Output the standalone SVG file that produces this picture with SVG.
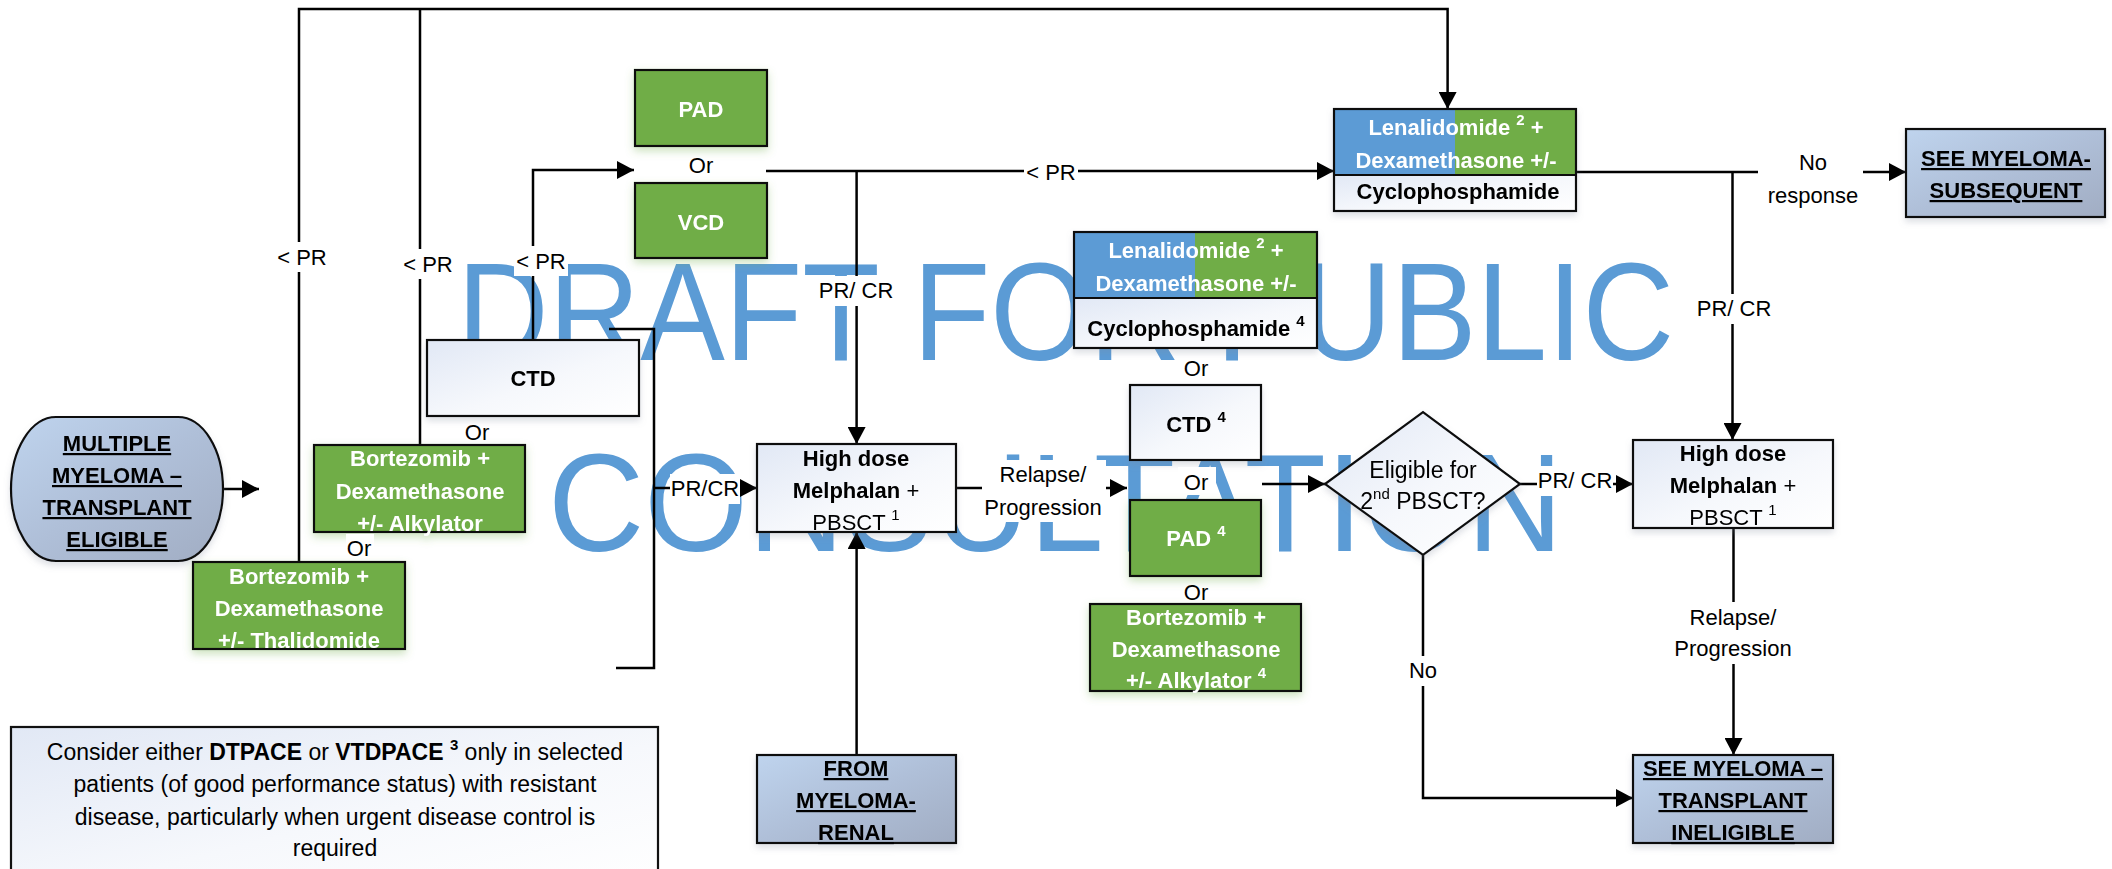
<svg xmlns="http://www.w3.org/2000/svg" width="2112" height="869" viewBox="0 0 2112 869">
<style>
text{font-family:"Liberation Sans",Arial,sans-serif;text-anchor:middle;font-size:22px;fill:#000}
.b{font-weight:bold}
.w{fill:#fff}
.u{text-decoration:underline}
.lab{font-size:22px}
.dia{font-size:23px}
.note{font-size:23px}
.wm{font-size:140px;fill:#5B9BD5;text-anchor:start}
.ln{fill:none;stroke:#000;stroke-width:2.5}
.arr{marker-end:url(#ah)}
.bg{fill:#fff}
.box{stroke:#111;stroke-width:2.2}
.green{fill:#70AD47}
.blue{fill:#5B9BD5}
.light{fill:url(#gLight)}
.term{fill:url(#gTerm)}
</style>
<defs>
<marker id="ah" markerUnits="userSpaceOnUse" markerWidth="18" markerHeight="18" refX="17" refY="9" orient="auto">
<path d="M0,0 L17,9 L0,18 Z" fill="#000"/>
</marker>
<linearGradient id="gLight" x1="0" y1="0" x2="1" y2="1">
<stop offset="0" stop-color="#E1E8F5"/>
<stop offset="0.55" stop-color="#F6F8FC"/>
<stop offset="1" stop-color="#FFFFFF"/>
</linearGradient>
<linearGradient id="gTerm" x1="0" y1="0" x2="1" y2="1">
<stop offset="0" stop-color="#BFD4EE"/>
<stop offset="0.5" stop-color="#AFBFD8"/>
<stop offset="1" stop-color="#A1ADC3"/>
</linearGradient>
<filter id="sh" x="-10%" y="-10%" width="120%" height="130%">
<feDropShadow dx="0" dy="4" stdDeviation="3" flood-color="#7a8599" flood-opacity="0.25"/>
</filter>
<filter id="shg" x="-10%" y="-10%" width="120%" height="130%">
<feDropShadow dx="0" dy="4" stdDeviation="4" flood-color="#70AD47" flood-opacity="0.35"/>
</filter>
</defs>

<g id="watermark">
<text class="wm" x="457" y="360" textLength="1217" lengthAdjust="spacingAndGlyphs">DRAFT FOR PUBLIC</text>
<text class="wm" x="548" y="551" textLength="1015" lengthAdjust="spacingAndGlyphs">CONSULTATION</text>
</g>

<g id="connectors">
<path class="ln arr" d="M299,562 V9 H1447.6 V109"/>
<path class="ln" d="M420,445 V9"/>
<path class="ln arr" d="M533,340 V170 H634"/>
<path class="ln arr" d="M766,171 H1334"/>
<path class="ln arr" d="M856.6,171 V444"/>
<path class="ln" d="M609,329 H654 V668 H616"/>
<path class="ln arr" d="M654,488 H757"/>
<path class="ln arr" d="M223,489 H259"/>
<path class="ln arr" d="M956,488 H1127"/>
<path class="ln arr" d="M1262,484 H1325"/>
<path class="ln arr" d="M1520,484 H1633"/>
<path class="ln arr" d="M1423,555 V798 H1633"/>
<path class="ln arr" d="M1733.5,528 V755"/>
<path class="ln arr" d="M1576,172 H1906"/>
<path class="ln arr" d="M1732.5,172 V440"/>
<path class="ln arr" d="M856.6,755 V532"/>

<rect class="bg" x="276" y="242" width="54" height="30"/>
<text class="lab" x="302" y="265">&lt; PR</text>
<rect class="bg" x="401" y="249" width="54" height="30"/>
<text class="lab" x="428" y="272">&lt; PR</text>
<rect class="bg" x="514" y="246" width="54" height="30"/>
<text class="lab" x="541" y="269">&lt; PR</text>
<rect class="bg" x="1024" y="158" width="54" height="28"/>
<text class="lab" x="1051" y="180">&lt; PR</text>
<rect class="bg" x="818" y="276" width="76" height="30"/>
<text class="lab" x="856" y="298">PR/ CR</text>
<rect class="bg" x="670" y="474" width="70" height="30"/>
<text class="lab" x="705" y="496">PR/CR</text>
<rect class="bg" x="982" y="460" width="124" height="62"/>
<text class="lab" x="1043" y="482">Relapse/</text>
<text class="lab" x="1043" y="515">Progression</text>
<rect class="bg" x="1537" y="466" width="76" height="30"/>
<text class="lab" x="1575" y="488">PR/ CR</text>
<rect class="bg" x="1406" y="656" width="34" height="30"/>
<text class="lab" x="1423" y="678">No</text>
<rect class="bg" x="1672" y="602" width="124" height="62"/>
<text class="lab" x="1733" y="625">Relapse/</text>
<text class="lab" x="1733" y="656">Progression</text>
<rect class="bg" x="1758" y="146" width="105" height="64"/>
<text class="lab" x="1813" y="170">No</text>
<text class="lab" x="1813" y="203">response</text>
<rect class="bg" x="1695" y="294" width="76" height="30"/>
<text class="lab" x="1734" y="316">PR/ CR</text>
</g>

<g id="mm-eligible" filter="url(#sh)">
<rect class="box term" x="11" y="417" width="212" height="144" rx="45" ry="72"/>
<text class="b u" x="117" y="451">MULTIPLE</text>
<text class="b u" x="117" y="483">MYELOMA –</text>
<text class="b u" x="117" y="515">TRANSPLANT</text>
<text class="b u" x="117" y="547">ELIGIBLE</text>
</g>

<g id="ctd1" filter="url(#sh)">
<rect class="box light" x="427" y="340" width="212" height="76"/>
<text class="b" x="533" y="386">CTD</text>
</g>
<g id="or1"><text x="477" y="440">Or</text></g>

<g id="bortezomib-alk" filter="url(#shg)">
<rect class="box green" x="314" y="445" width="211" height="87"/>
<text class="b w" x="420" y="466">Bortezomib +</text>
<text class="b w" x="420" y="499">Dexamethasone</text>
<text class="b w" x="420" y="531">+/- Alkylator</text>
</g>
<g id="or2"><rect class="bg" x="346" y="534" width="28" height="26"/><text x="359" y="556">Or</text></g>

<g id="bortezomib-thal" filter="url(#shg)">
<rect class="box green" x="193" y="562" width="212" height="87"/>
<text class="b w" x="299" y="584">Bortezomib +</text>
<text class="b w" x="299" y="616">Dexamethasone</text>
<text class="b w" x="299" y="648">+/- Thalidomide</text>
</g>

<g id="pad1" filter="url(#shg)">
<rect class="box green" x="635" y="70" width="132" height="76"/>
<text class="b w" x="701" y="117">PAD</text>
</g>
<g id="or3"><text x="701" y="173">Or</text></g>
<g id="vcd" filter="url(#shg)">
<rect class="box green" x="635" y="183" width="132" height="75"/>
<text class="b w" x="701" y="230">VCD</text>
</g>

<g id="hdm1" filter="url(#sh)">
<rect class="box light" x="757" y="444" width="199" height="88"/>
<text class="b" x="856" y="466">High dose</text>
<text x="856" y="498"><tspan class="b">Melphalan</tspan> +</text>
<text x="856" y="530">PBSCT <tspan dy="-10" font-size="15">1</tspan></text>
</g>

<g id="from-renal" filter="url(#sh)">
<rect class="box term" x="757" y="755" width="199" height="88"/>
<text class="b u" x="856" y="776">FROM</text>
<text class="b u" x="856" y="808">MYELOMA-</text>
<text class="b u" x="856" y="840">RENAL</text>
</g>

<g id="len1" filter="url(#sh)">
<rect class="blue" x="1334" y="109" width="121" height="66"/>
<rect class="green" x="1455" y="109" width="121" height="66"/>
<rect class="light" x="1334" y="175" width="242" height="36"/>
<rect fill="none" class="box" x="1334" y="109" width="242" height="102"/>
<line x1="1334" y1="175" x2="1576" y2="175" stroke="#111" stroke-width="2"/>
<text class="b w" x="1456" y="135">Lenalidomide <tspan dy="-10" font-size="15">2</tspan><tspan dy="10"> +</tspan></text>
<text class="b w" x="1456" y="168">Dexamethasone +/-</text>
<text class="b" x="1458" y="199">Cyclophosphamide</text>
</g>

<g id="see-subsequent" filter="url(#sh)">
<rect class="box term" x="1906" y="129" width="199" height="88"/>
<text class="b u" x="2006" y="166">SEE MYELOMA-</text>
<text class="b u" x="2006" y="198">SUBSEQUENT</text>
</g>

<g id="len2" filter="url(#sh)">
<rect class="blue" x="1074" y="232" width="121" height="66"/>
<rect class="green" x="1195" y="232" width="122" height="66"/>
<rect class="light" x="1074" y="298" width="243" height="50"/>
<rect fill="none" class="box" x="1074" y="232" width="243" height="116"/>
<line x1="1074" y1="298" x2="1317" y2="298" stroke="#111" stroke-width="2"/>
<text class="b w" x="1196" y="258">Lenalidomide <tspan dy="-10" font-size="15">2</tspan><tspan dy="10"> +</tspan></text>
<text class="b w" x="1196" y="291">Dexamethasone +/-</text>
<text class="b" x="1196" y="336">Cyclophosphamide <tspan dy="-10" font-size="15">4</tspan></text>
</g>
<g id="or4"><text x="1196" y="376">Or</text></g>

<g id="ctd4" filter="url(#sh)">
<rect class="box light" x="1130" y="385" width="131" height="75"/>
<text class="b" x="1196" y="432">CTD <tspan dy="-10" font-size="15">4</tspan></text>
</g>
<g id="or5"><rect class="bg" x="1178" y="467" width="38" height="28"/><text x="1196" y="490">Or</text></g>

<g id="pad4" filter="url(#shg)">
<rect class="box green" x="1130" y="500" width="131" height="76"/>
<text class="b w" x="1196" y="546">PAD <tspan dy="-10" font-size="15">4</tspan></text>
</g>
<g id="or6"><text x="1196" y="600">Or</text></g>

<g id="bortezomib-alk4" filter="url(#shg)">
<rect class="box green" x="1090" y="604" width="211" height="87"/>
<text class="b w" x="1196" y="625">Bortezomib +</text>
<text class="b w" x="1196" y="657">Dexamethasone</text>
<text class="b w" x="1196" y="688">+/- Alkylator <tspan dy="-10" font-size="15">4</tspan></text>
</g>

<g id="eligible-2nd" filter="url(#sh)">
<polygon class="box light" points="1325,484 1423,412 1520,484 1423,555"/>
<text class="dia" x="1423" y="478">Eligible for</text>
<text class="dia" x="1423" y="509">2<tspan dy="-10" font-size="15">nd</tspan><tspan dy="10"> PBSCT?</tspan></text>
</g>

<g id="hdm2" filter="url(#sh)">
<rect class="box light" x="1633" y="440" width="200" height="88"/>
<text class="b" x="1733" y="461">High dose</text>
<text x="1733" y="493"><tspan class="b">Melphalan</tspan> +</text>
<text x="1733" y="525">PBSCT <tspan dy="-10" font-size="15">1</tspan></text>
</g>

<g id="see-ineligible" filter="url(#sh)">
<rect class="box term" x="1633" y="755" width="200" height="88"/>
<text class="b u" x="1733" y="776">SEE MYELOMA –</text>
<text class="b u" x="1733" y="808">TRANSPLANT</text>
<text class="b u" x="1733" y="840">INELIGIBLE</text>
</g>

<g id="note">
<rect class="box light" x="11" y="727" width="647" height="160"/>
<text class="note" x="335" y="760">Consider either <tspan class="b">DTPACE</tspan> or <tspan class="b">VTDPACE</tspan> <tspan class="b" dy="-10" font-size="15">3</tspan><tspan dy="10"> only in selected</tspan></text>
<text class="note" x="335" y="792">patients (of good performance status) with resistant</text>
<text class="note" x="335" y="825">disease, particularly when urgent disease control is</text>
<text class="note" x="335" y="856">required</text>
</g>
</svg>
